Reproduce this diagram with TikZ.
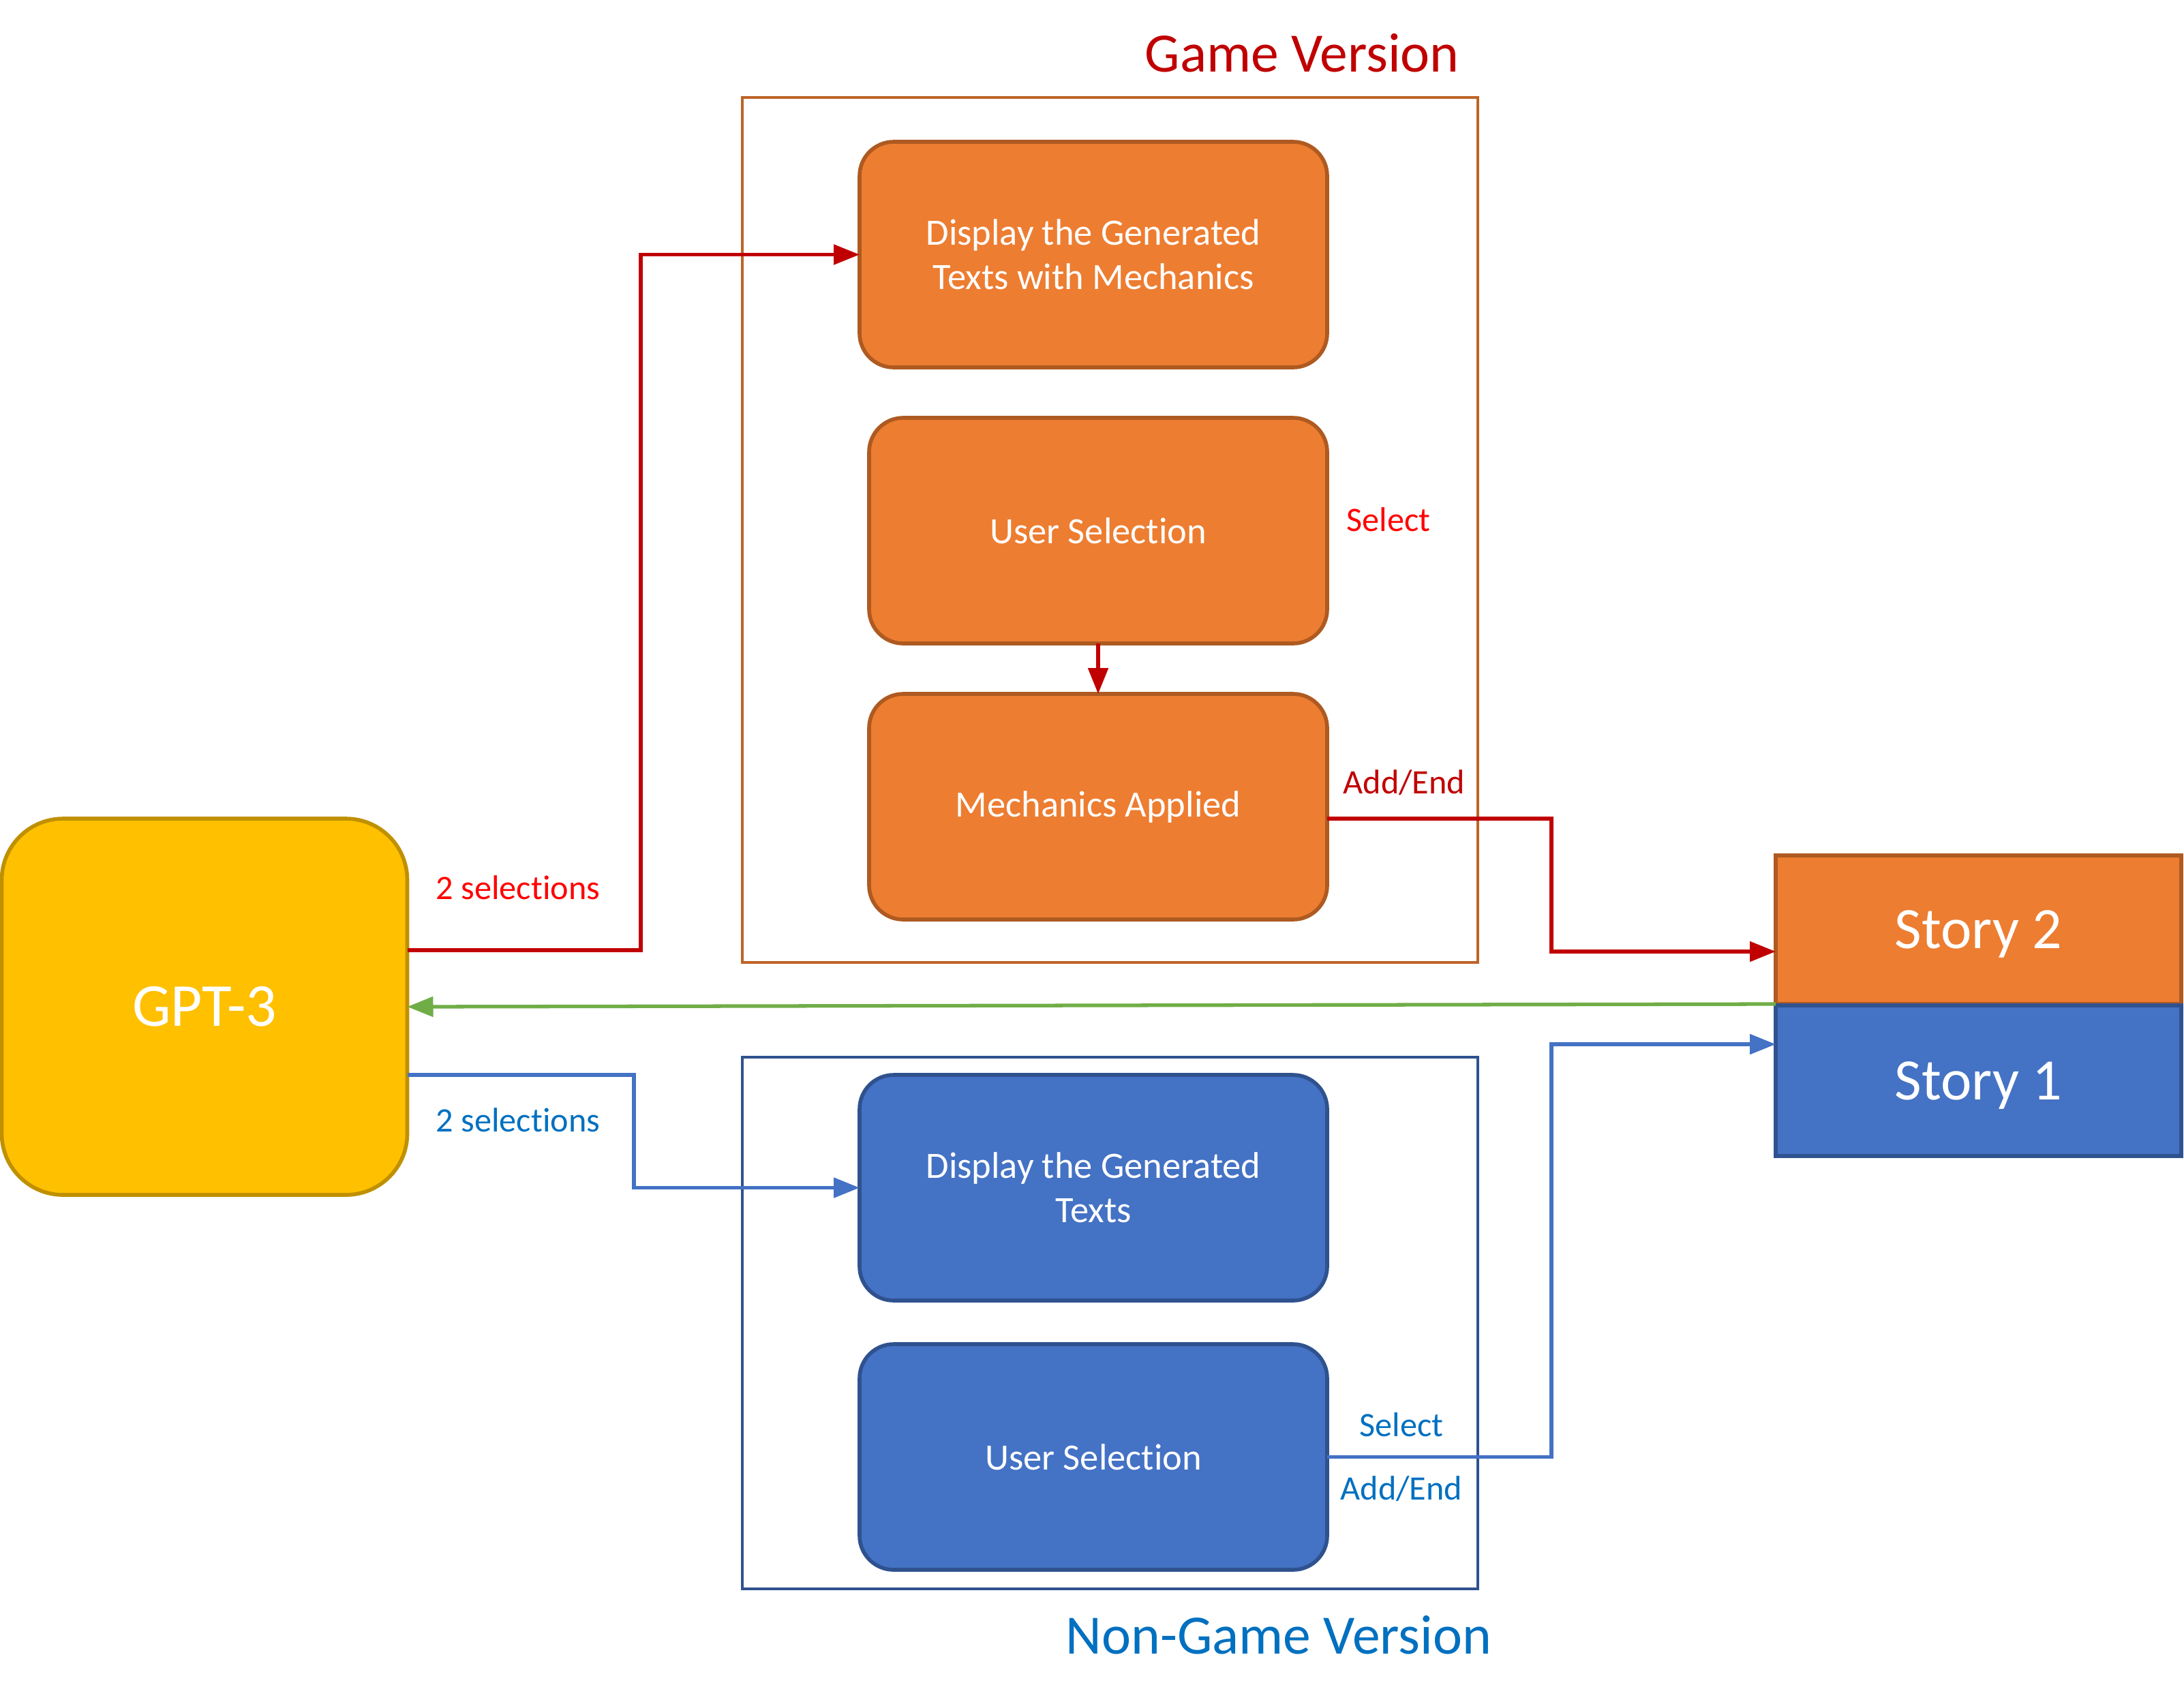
\documentclass[tikz,border=0pt]{standalone}
\usepackage{fontspec}
\setmainfont{Carlito}[Ligatures=NoCommon]
\usepackage{tikz}
\usetikzlibrary{positioning,arrows.meta,calc}
\usepackage{xcolor}
\definecolor{orfill}{HTML}{ED7D31}
\definecolor{ordraw}{HTML}{AE5A21}
\definecolor{blfill}{HTML}{4472C4}
\definecolor{bldraw}{HTML}{2F528F}
\definecolor{gpfill}{HTML}{FFC000}
\definecolor{gpdraw}{HTML}{BF9000}
\definecolor{darkred}{HTML}{C00000}
\definecolor{brightred}{HTML}{FF0000}
\definecolor{labelblue}{HTML}{0070C0}
\definecolor{arrgreen}{HTML}{70AD47}

\begin{document}
\begin{tikzpicture}[>={Triangle[length=3.8mm,width=2.9mm]},
  box/.style={rounded corners=5mm,line width=1.6pt,outer sep=0pt,minimum width=6.72cm,minimum height=3.31cm,align=center,text=white,font=\fontsize{15.5}{18.5}\selectfont},
  gamebox/.style={box,fill=orfill,draw=ordraw},
  plainbox/.style={box,fill=blfill,draw=bldraw},
  frame/.style={line width=1.3pt,minimum width=10.79cm},
  story/.style={line width=1.8pt,outer sep=0pt,minimum width=5.95cm,text depth=0pt,text=white,font=\fontsize{24.5}{28}\selectfont},
  lbl/.style={font=\fontsize{14.3}{17}\selectfont},
  redline/.style={->,line width=1.5pt,draw=darkred},
  blueline/.style={->,line width=1.5pt,draw=blfill}]
\useasboundingbox (0,0) rectangle (32.04,-24.96);
\node[draw=gpdraw,fill=gpfill,rounded corners=9mm,line width=1.6pt,outer sep=0pt,minimum width=5.95cm,minimum height=5.52cm,text=white,font=\fontsize{25.5}{30}\selectfont] (gpt) at (3.0,-14.77) {GPT-3};
\node[frame,draw=orfill!80!black,minimum height=12.69cm] (gframe) at (16.285,-7.775) {};
\node[frame,draw=bldraw,minimum height=7.80cm] (nframe) at (16.285,-19.41) {};
\node[font=\fontsize{23.2}{27}\selectfont,text=darkred] (gtitle) at (19.10,-0.78) {Game Version};
\node[font=\fontsize{23.2}{27}\selectfont,text=labelblue] (ntitle) at (18.76,-23.99) {Non-Game Version};
\node[gamebox,minimum width=6.86cm] (disp) at (16.04,-3.735) {Display the Generated\\Texts with Mechanics};
\node[gamebox] (usel) at (16.11,-7.785) {User Selection};
\node[gamebox] (mech) at (16.11,-11.835) {Mechanics Applied};
\node[plainbox,minimum width=6.86cm] (ndisp) at (16.04,-17.425) {Display the Generated\\Texts};
\node[plainbox,minimum width=6.86cm] (nsel) at (16.04,-21.375) {User Selection};
\node[story,fill=orfill,draw=ordraw,minimum height=2.18cm] (story2) at (29.025,-13.64) {Story 2};
\node[story,fill=blfill,draw=bldraw,minimum height=2.21cm] (story1) at (29.025,-15.855) {Story 1};
% game version flow
\draw[redline] ([yshift=8.3mm]gpt.east) -| ([xshift=-32.1mm]disp.west) -- (disp.west);
\node[lbl,text=brightred] (gsel) at (7.60,-13.02) {2 selections};
\draw[redline] (usel.south) -- (mech.north);
\node[lbl,text=brightred] (gpick) at (20.37,-7.62) {Select};
\draw[redline] ([yshift=-1.75mm]mech.east) -| ([xshift=-32.9mm,yshift=-3.2mm]story2.west) -- ([yshift=-3.2mm]story2.west);
\node[lbl,text=darkred] (gadd) at (20.60,-11.48) {Add/End};
% back to the model
\draw[->,line width=1.5pt,draw=arrgreen] (story2.south west) -- (gpt.east);
% non-game version flow
\draw[blueline] ([yshift=-10mm]gpt.east) -| ([xshift=-33.1mm]ndisp.west) -- (ndisp.west);
\node[lbl,text=labelblue] (nsel2) at (7.60,-16.43) {2 selections};
\draw[blueline] (nsel.east) -| ([xshift=-32.9mm,yshift=5.35mm]story1.west) -- ([yshift=5.35mm]story1.west);
\node[lbl,text=labelblue] (npick) at (20.56,-20.90) {Select};
\node[lbl,text=labelblue] (nadd) at (20.56,-21.84) {Add/End};
\end{tikzpicture}
\end{document}
